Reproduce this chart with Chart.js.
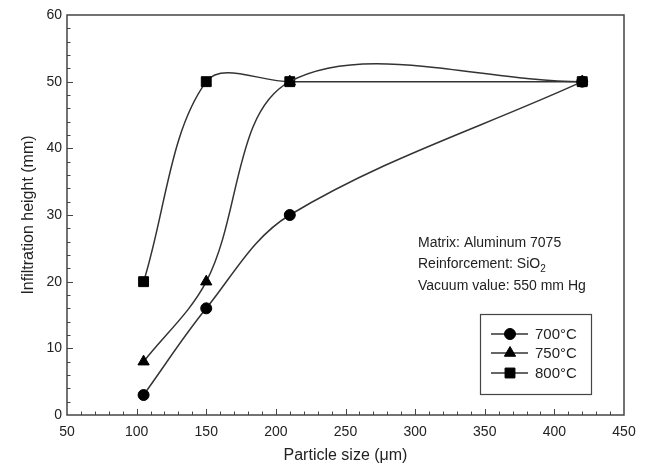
<!DOCTYPE html>
<html>
<head>
<meta charset="utf-8">
<script src="https://cdn.jsdelivr.net/npm/chart.js@4.4.1/dist/chart.umd.min.js"></script>
<style>
  html, body { margin: 0; padding: 0; background: #fff; }
  canvas { display: block; }
</style>
</head>
<body>
<canvas id="chart" width="646" height="469"></canvas>
<script>
'use strict';

// particle size (µm) and infiltration height (mm) per temperature
const particleSize = [105, 150, 210, 420];
const height700 = [3, 16, 30, 50];
const height750 = [8, 20, 50, 50];
const height800 = [20, 50, 50, 50];
const seriesNames = ['700°C', '750°C', '800°C'];
const seriesMarkers = ['circle', 'triangle', 'rect'];
const markerRadius = [5.5, 6.5, 7];

const xRange = [50, 450], xMajor = 50, xMinor = 10;
const yRange = [0, 60], yMajor = 10, yMinor = 2;

const noteLines = ['Matrix: Aluminum 7075', 'Reinforcement: SiO', 'Vacuum value: 550 mm Hg'];

const INK = '#333';
const FONT = "'Liberation Sans', Arial, sans-serif";

Chart.defaults.color = '#222';
Chart.defaults.font.family = FONT;

const toPoints = ys => particleSize.map((x, i) => ({ x, y: ys[i] }));
const allSeries = [height700, height750, height800];

const frame = {
    id: 'frame',
    beforeDatasetsDraw(chart) {
        const { ctx, chartArea: a, scales: { x, y } } = chart;
        ctx.save();
        ctx.strokeStyle = '#444';
        ctx.lineWidth = 1.5;
        ctx.strokeRect(a.left, a.top, a.right - a.left, a.bottom - a.top);
        ctx.lineWidth = 1;
        ctx.beginPath();
        for (let v = xRange[0] + xMinor; v < xRange[1]; v += xMinor) {
            const px = Math.round(x.getPixelForValue(v)) + 0.5;
            const len = v % xMajor === 0 ? 6 : 3.5;
            ctx.moveTo(px, a.bottom);
            ctx.lineTo(px, a.bottom - len);
        }
        for (let v = yRange[0] + yMinor; v < yRange[1]; v += yMinor) {
            const py = Math.round(y.getPixelForValue(v)) + 0.5;
            const len = v % yMajor === 0 ? 6 : 3.5;
            ctx.moveTo(a.left, py);
            ctx.lineTo(a.left + len, py);
        }
        ctx.stroke();
        ctx.restore();
    },
    afterDraw(chart) {
        const { ctx } = chart;
        ctx.save();
        // notes
        ctx.fillStyle = '#222';
        ctx.font = '14px ' + FONT;
        ctx.textBaseline = 'middle';
        ctx.textAlign = 'left';
        const noteY = [243, 264, 286];
        noteLines.forEach((t, i) => ctx.fillText(t, 418, noteY[i]));
        const w = ctx.measureText(noteLines[1]).width;
        ctx.font = '10px ' + FONT;
        ctx.fillText('2', 418 + w, noteY[1] + 5);

        // legend box
        ctx.strokeStyle = '#444';
        ctx.lineWidth = 1.2;
        ctx.strokeRect(480.5, 314.5, 111, 80);
        const rowY = [334, 353, 373];
        ctx.font = '15px ' + FONT;
        seriesNames.forEach((name, i) => {
            ctx.strokeStyle = INK;
            ctx.lineWidth = 1.5;
            ctx.beginPath();
            ctx.moveTo(491, rowY[i]);
            ctx.lineTo(528, rowY[i]);
            ctx.stroke();
            ctx.fillStyle = '#000';
            ctx.strokeStyle = '#000';
            ctx.lineWidth = 1;
            Chart.helpers.drawPoint(ctx, { pointStyle: seriesMarkers[i], radius: markerRadius[i], rotation: 0, borderWidth: 1 }, 510, rowY[i]);
            ctx.fillStyle = '#222';
            ctx.fillText(name, 535, rowY[i] + 1);
        });
        ctx.restore();
    }
};

new Chart(document.getElementById('chart'), {
    type: 'line',
    data: {
        datasets: allSeries.map((ys, i) => ({
            label: seriesNames[i],
            data: toPoints(ys),
            borderColor: INK,
            borderWidth: 1.5,
            backgroundColor: '#000',
            pointBackgroundColor: '#000',
            pointBorderColor: '#000',
            pointBorderWidth: 1,
            pointStyle: seriesMarkers[i],
            pointRadius: markerRadius[i],
            tension: 0.35,
            fill: false,
        }))
    },
    options: {
        responsive: false,
        animation: false,
        layout: { padding: { left: 0, right: 22, top: 15, bottom: 0 } },
        plugins: { legend: { display: false }, tooltip: { enabled: false } },
        scales: {
            x: {
                type: 'linear', min: xRange[0], max: xRange[1],
                ticks: { stepSize: xMajor, padding: 9, font: { size: 14 }, maxRotation: 0 },
                grid: { display: false, drawTicks: false },
                border: { display: false },
                title: { display: true, text: 'Particle size (μm)', font: { size: 16 }, color: '#222', padding: { top: 0, bottom: 4 } },
                afterFit: s => { s.height = 54; },
            },
            y: {
                min: yRange[0], max: yRange[1],
                ticks: { stepSize: yMajor, padding: 5, font: { size: 14 } },
                grid: { display: false, drawTicks: false },
                border: { display: false },
                title: { display: true, text: 'Infiltration height (mm)', font: { size: 16 }, color: '#222', padding: { top: 19, bottom: 0 } },
                afterFit: s => { s.width = 67; },
            }
        }
    },
    plugins: [frame]
});
</script>
</body>
</html>
